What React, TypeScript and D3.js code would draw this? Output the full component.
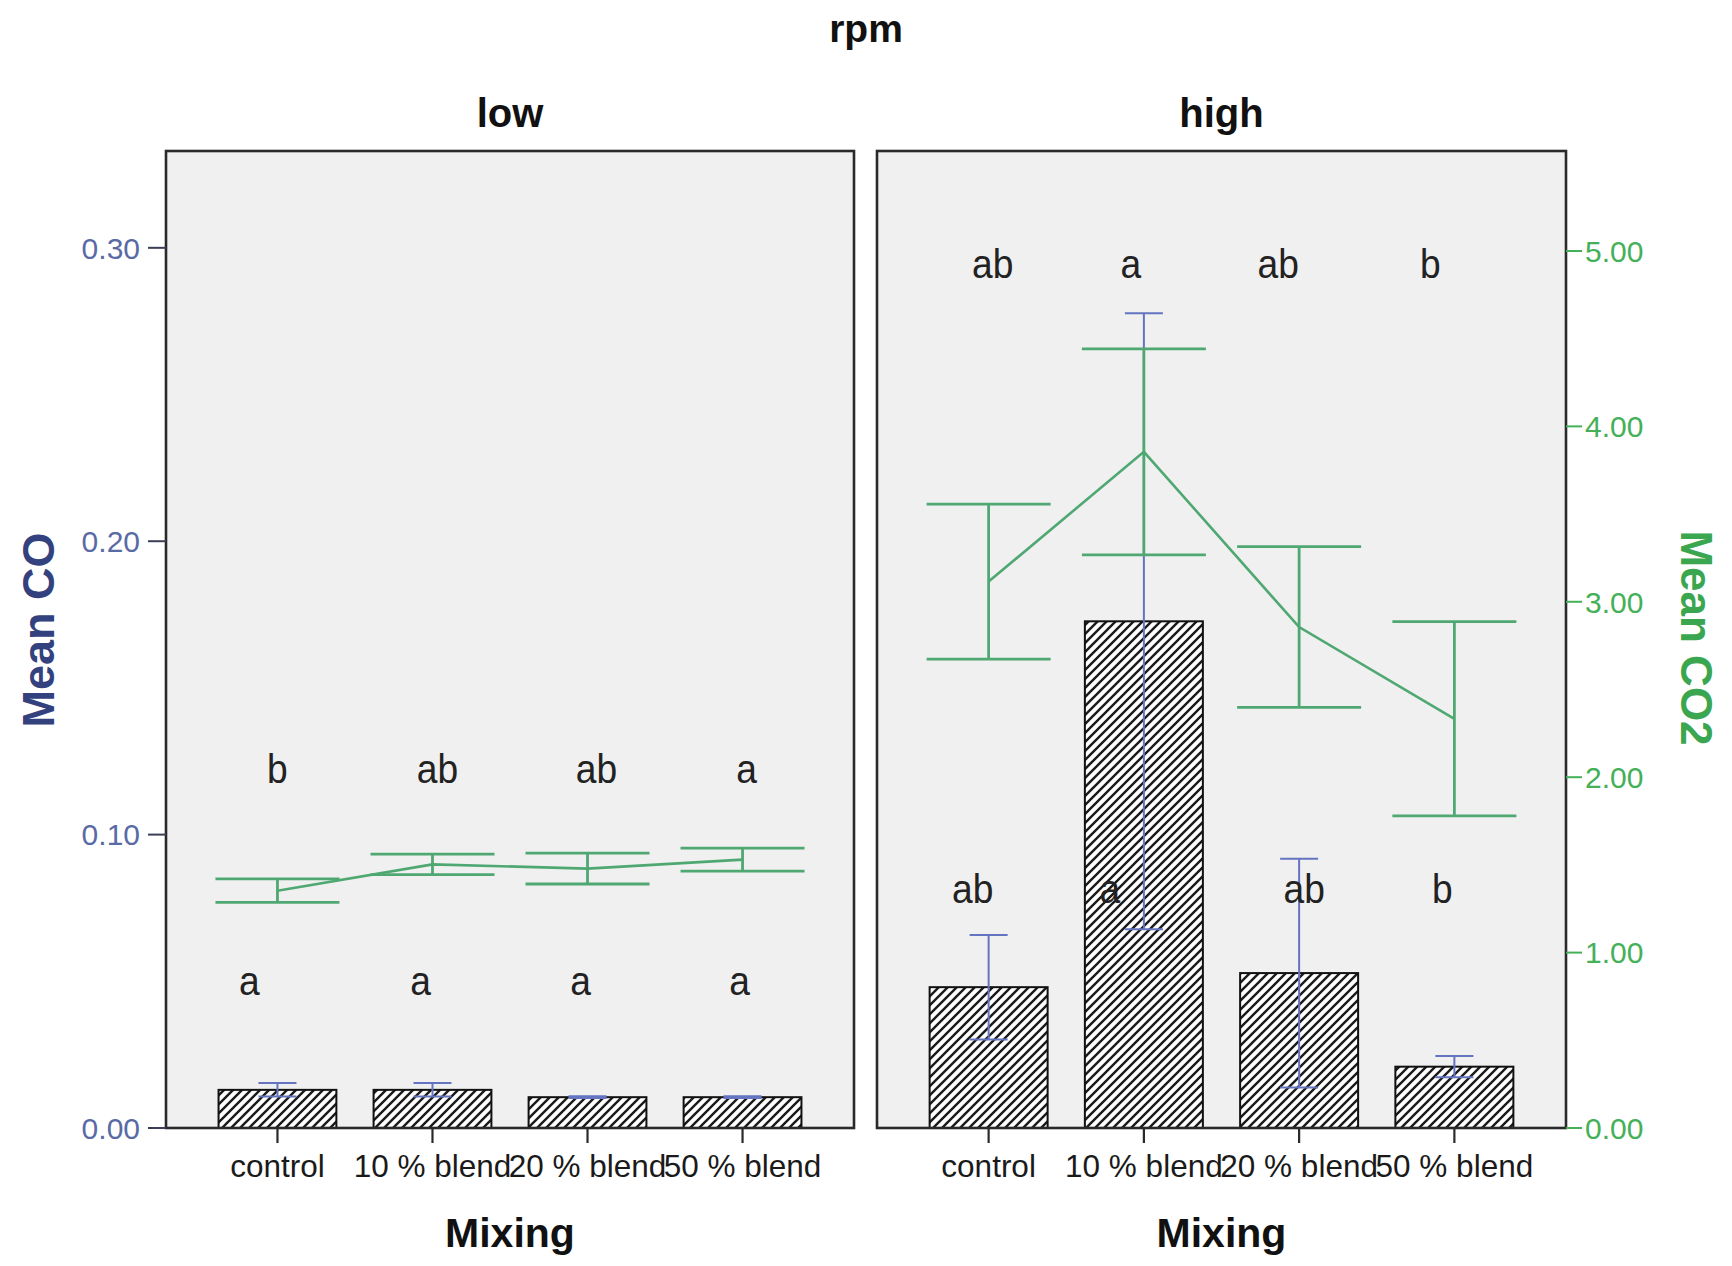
import React from "react";
import * as d3 from "d3";

// Mixing treatments on the x axis
const categories = ["control", "10 % blend", "20 % blend", "50 % blend"];
const panelNames = ["low", "high"];

// Mean CO (bars, left axis) with error half-widths
const coMeanLow = [0.013, 0.013, 0.0105, 0.0105];
const coErrLow = [0.0023, 0.0023, 0.0003, 0.0003];
const coMeanHigh = [0.048, 0.1727, 0.0528, 0.0209];
const coErrHigh = [0.0178, 0.105, 0.039, 0.0036];

// Mean CO2 (line, right axis) with error half-widths
const co2MeanLow = [1.353, 1.503, 1.479, 1.53];
const co2ErrLow = [0.067, 0.058, 0.088, 0.066];
const co2MeanHigh = [3.115, 3.855, 2.856, 2.333];
const co2ErrHigh = [0.442, 0.587, 0.458, 0.554];

// Significance letters
const lettersLowCO2 = ["b", "ab", "ab", "a"];
const lettersLowCO = ["a", "a", "a", "a"];
const lettersHighCO2 = ["ab", "a", "ab", "b"];
const lettersHighCO = ["ab", "a", "ab", "b"];

// Axis ticks
const coTicks = [0, 0.1, 0.2, 0.3];
const co2Ticks = [0, 1, 2, 3, 4, 5];

const FONT = "'Liberation Sans', Arial, Helvetica, sans-serif";
const GREEN = "#4fa872";
const BLUE = "#6474c0";

export default function App() {
  const W = 1732;
  const H = 1266;
  const top = 151;
  const bottom = 1128;

  const yCO = d3.scaleLinear().domain([0, 0.333]).range([bottom, top]);
  const yCO2 = d3.scaleLinear().domain([0, 5.57]).range([bottom, top]);

  const panels = [
    {
      name: panelNames[0],
      x0: 166,
      x1: 854,
      co: coMeanLow,
      coErr: coErrLow,
      co2: co2MeanLow,
      co2Err: co2ErrLow,
      upper: lettersLowCO2,
      lower: lettersLowCO,
      upperY: 783,
      lowerY: 995,
      upperDx: [0, 5, 9, 4],
      lowerDx: [-28, -12, -7, -3],
    },
    {
      name: panelNames[1],
      x0: 877,
      x1: 1566,
      co: coMeanHigh,
      coErr: coErrHigh,
      co2: co2MeanHigh,
      co2Err: co2ErrHigh,
      upper: lettersHighCO2,
      lower: lettersHighCO,
      upperY: 278,
      lowerY: 903,
      upperDx: [4, -13, -21, -24],
      lowerDx: [-16, -34, 5, -12],
    },
  ];

  const coFmt = d3.format(".2f");

  return (
    <svg
      width={W}
      height={H}
      viewBox={`0 0 ${W} ${H}`}
      style={{ position: "absolute", left: 0, top: 0, background: "#fff" }}
      fontFamily={FONT}
    >
      <defs>
        <pattern id="hatch" patternUnits="userSpaceOnUse" width="9" height="9">
          <rect width="9" height="9" fill="#ffffff" />
          <path
            d="M-2,2 L2,-2 M0,9 L9,0 M7,11 L11,7"
            stroke="#1a1a1a"
            strokeWidth="2.4"
          />
        </pattern>
      </defs>

      <text x={866} y={42} textAnchor="middle" fontSize={39} fontWeight="bold" fill="#111">
        rpm
      </text>

      {panels.map((p, pi) => {
        const x = d3
          .scaleBand<string>()
          .domain(categories)
          .range([p.x0, p.x1])
          .paddingInner(0.24)
          .paddingOuter(0.339);
        const cx = (c: string) => (x(c) as number) + x.bandwidth() / 2;
        const line = d3
          .line<number>()
          .x((_, i) => cx(categories[i]))
          .y((v) => yCO2(v));
        const mid = (p.x0 + p.x1) / 2;
        return (
          <g key={p.name}>
            <text x={mid} y={127} textAnchor="middle" fontSize={40} fontWeight="bold" fill="#111">
              {p.name}
            </text>
            <rect x={p.x0} y={top} width={p.x1 - p.x0} height={bottom - top} fill="#f0f0f0" />

            {/* CO bars */}
            {categories.map((c, i) => (
              <rect
                key={c}
                x={x(c)}
                y={yCO(p.co[i])}
                width={x.bandwidth()}
                height={bottom - yCO(p.co[i])}
                fill="url(#hatch)"
                stroke="#111"
                strokeWidth={2}
              />
            ))}

            {/* CO error bars */}
            {categories.map((c, i) => {
              const xc = cx(c);
              const hi = yCO(p.co[i] + p.coErr[i]);
              const lo = yCO(p.co[i] - p.coErr[i]);
              return (
                <g key={c} stroke={BLUE} strokeWidth={2}>
                  <line x1={xc} x2={xc} y1={hi} y2={lo} />
                  <line x1={xc - 19} x2={xc + 19} y1={hi} y2={hi} />
                  <line x1={xc - 19} x2={xc + 19} y1={lo} y2={lo} />
                </g>
              );
            })}

            {/* CO2 means and error bars */}
            <path d={line(p.co2) || ""} fill="none" stroke={GREEN} strokeWidth={2.6} />
            {categories.map((c, i) => {
              const xc = cx(c);
              const hi = yCO2(p.co2[i] + p.co2Err[i]);
              const lo = yCO2(p.co2[i] - p.co2Err[i]);
              return (
                <g key={c} stroke={GREEN} strokeWidth={2.8}>
                  <line x1={xc} x2={xc} y1={hi} y2={lo} />
                  <line x1={xc - 62} x2={xc + 62} y1={hi} y2={hi} />
                  <line x1={xc - 62} x2={xc + 62} y1={lo} y2={lo} />
                </g>
              );
            })}

            {/* significance letters */}
            {categories.map((c, i) => (
              <g key={"u" + c} transform={`translate(${cx(c) + p.upperDx[i]},${p.upperY}) scale(0.93,1)`}>
                <text textAnchor="middle" fontSize={40} fill="#222">
                  {p.upper[i]}
                </text>
              </g>
            ))}
            {categories.map((c, i) => (
              <g key={"l" + c} transform={`translate(${cx(c) + p.lowerDx[i]},${p.lowerY}) scale(0.93,1)`}>
                <text textAnchor="middle" fontSize={40} fill="#222">
                  {p.lower[i]}
                </text>
              </g>
            ))}

            {/* panel frame */}
            <rect
              x={p.x0}
              y={top}
              width={p.x1 - p.x0}
              height={bottom - top}
              fill="none"
              stroke="#2a2a2a"
              strokeWidth={2.6}
            />

            {/* category ticks and labels */}
            {categories.map((c) => (
              <g key={"t" + c}>
                <line x1={cx(c)} x2={cx(c)} y1={bottom} y2={bottom + 15} stroke="#2a2a2a" strokeWidth={2.2} />
                <text x={cx(c)} y={1177} textAnchor="middle" fontSize={31.5} fill="#1a1a1a">
                  {c}
                </text>
              </g>
            ))}
            <text x={mid} y={1247} textAnchor="middle" fontSize={41} fontWeight="bold" fill="#111">
              Mixing
            </text>

            {/* left CO axis */}
            {pi === 0 &&
              coTicks.map((t) => (
                <g key={"co" + t}>
                  <line x1={p.x0 - 18} x2={p.x0} y1={yCO(t)} y2={yCO(t)} stroke="#3a3f55" strokeWidth={2} />
                  <text x={140} y={yCO(t)} dy="0.36em" textAnchor="end" fontSize={30} fill="#5a6aa5">
                    {coFmt(t)}
                  </text>
                </g>
              ))}

            {/* right CO2 axis */}
            {pi === 1 &&
              co2Ticks.map((t) => (
                <g key={"co2" + t}>
                  <line x1={p.x1} x2={p.x1 + 16} y1={yCO2(t)} y2={yCO2(t)} stroke="#44b058" strokeWidth={2} />
                  <text x={1585} y={yCO2(t)} dy="0.36em" textAnchor="start" fontSize={30} fill="#44b058">
                    {coFmt(t)}
                  </text>
                </g>
              ))}
          </g>
        );
      })}

      <text
        transform="translate(54,630) rotate(-90)"
        textAnchor="middle"
        fontSize={45}
        fontWeight="bold"
        fill="#33427e"
      >
        Mean CO
      </text>
      <text
        transform="translate(1681,638) rotate(90)"
        textAnchor="middle"
        fontSize={44}
        fontWeight="bold"
        fill="#3aa650"
      >
        Mean CO2
      </text>
    </svg>
  );
}
